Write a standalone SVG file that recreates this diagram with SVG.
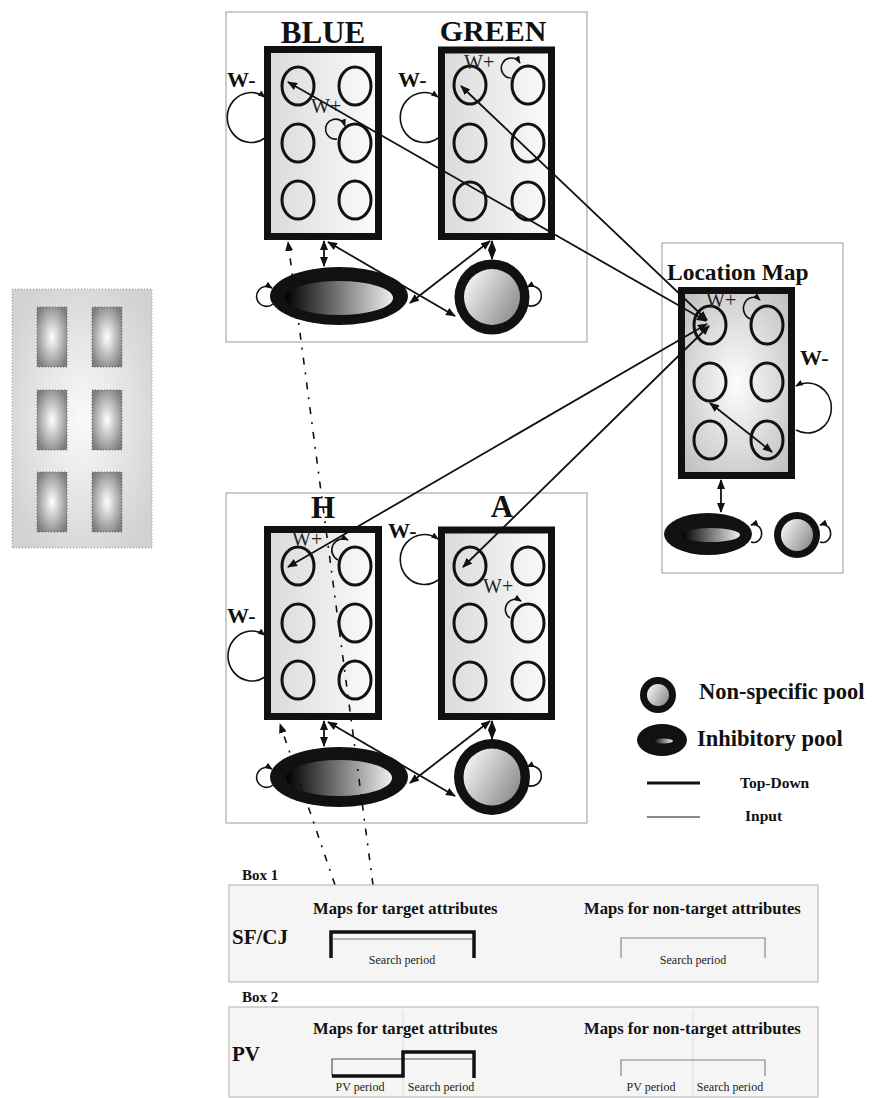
<svg xmlns="http://www.w3.org/2000/svg" width="876" height="1098" viewBox="0 0 876 1098">
<defs>
<linearGradient id="gRect" x1="0" y1="0" x2="1" y2="0"><stop offset="0" stop-color="#dadada"/><stop offset="1" stop-color="#fbfbfb"/></linearGradient>
<radialGradient id="gLM" cx="0.5" cy="0.5" r="0.7"><stop offset="0" stop-color="#fdfdfd"/><stop offset="1" stop-color="#bcbcbc"/></radialGradient>
<linearGradient id="gInh" x1="0" y1="0" x2="1" y2="0"><stop offset="0" stop-color="#000"/><stop offset="1" stop-color="#efefef"/></linearGradient>
<linearGradient id="gNS" x1="0" y1="0.2" x2="1" y2="0.8"><stop offset="0" stop-color="#f6f6f6"/><stop offset="1" stop-color="#8a8a8a"/></linearGradient>
<radialGradient id="gPanel" cx="0.5" cy="0.5" r="0.6"><stop offset="0" stop-color="#fafafa"/><stop offset="1" stop-color="#d2d2d2"/></radialGradient>
<radialGradient id="gCell" cx="0.5" cy="0.5" r="0.6"><stop offset="0" stop-color="#ffffff"/><stop offset="1" stop-color="#7e7e7e"/></radialGradient>
<marker id="ah" viewBox="0 0 10 8" refX="9" refY="4" markerWidth="10" markerHeight="8" markerUnits="userSpaceOnUse" orient="auto-start-reverse"><path d="M0,0 L10,4 L0,8 z" fill="#111"/></marker>
<marker id="ahs" viewBox="0 0 10 8" refX="9" refY="4" markerWidth="8" markerHeight="6" markerUnits="userSpaceOnUse" orient="auto"><path d="M0,0 L10,4 L0,8 z" fill="#111"/></marker>
</defs>
<style>
.mod{fill:#fff;stroke:#aaa;stroke-width:1.2}
.fmap{fill:url(#gRect);stroke:#111;stroke-width:7}
.lmap{fill:url(#gLM);stroke:#111;stroke-width:7}
.cell{fill:none;stroke:#111;stroke-width:3}
.title{font-family:"Liberation Serif",serif;font-weight:bold;fill:#111}
.wp{font-family:"Liberation Serif",serif;font-size:20px;fill:#222}
.wm{font-family:"Liberation Serif",serif;font-weight:bold;font-size:22px;fill:#111}
.loop{fill:none;stroke:#111;stroke-width:1.6}
.ln{fill:none;stroke:#111;stroke-width:1.8}
.dd{fill:none;stroke:#111;stroke-width:1.6;stroke-dasharray:7 8 2 8}
.box{fill:#f5f5f5;stroke:#bbb;stroke-width:1.2}
.bl{font-family:"Liberation Serif",serif;font-weight:bold;fill:#111}
.sm{font-family:"Liberation Serif",serif;font-size:12px;fill:#222}
.thick{fill:none;stroke:#111;stroke-width:3.5}
.thin{fill:none;stroke:#888;stroke-width:1.2}
</style>

<!-- left panel -->
<g id="stimulus">
<rect x="12" y="289" width="140" height="259" fill="url(#gPanel)" stroke="#999" stroke-width="1" stroke-dasharray="1 2"/>
<g fill="url(#gCell)" stroke="#666" stroke-width="1" stroke-dasharray="1 2">
<rect x="37" y="307" width="30" height="60"/><rect x="92" y="307" width="30" height="60"/>
<rect x="37" y="390" width="30" height="60"/><rect x="92" y="390" width="30" height="60"/>
<rect x="37" y="472" width="30" height="60"/><rect x="92" y="472" width="30" height="60"/>
</g>
</g>

<!-- module frames -->
<rect id="module-top" class="mod" x="226" y="12" width="361" height="330"/>
<rect id="module-bottom" class="mod" x="226" y="493" width="361" height="330"/>
<rect id="module-lm" class="mod" x="662" y="243" width="181" height="330"/>

<!-- BLUE -->
<g id="blue">
<text class="title" x="323" y="43" font-size="31" text-anchor="middle">BLUE</text>
<rect class="fmap" x="267.5" y="49.5" width="111" height="187"/>
<g class="cell"><ellipse cx="298" cy="86" rx="16" ry="19"/><ellipse cx="355" cy="86" rx="16" ry="19"/><ellipse cx="298" cy="143" rx="16" ry="19"/><ellipse cx="355" cy="143" rx="16" ry="19"/><ellipse cx="298" cy="200" rx="16" ry="19"/><ellipse cx="355" cy="200" rx="16" ry="19"/></g>
<text class="wm" x="227" y="87">W-</text>
<path class="loop" d="M265,138 A24 25 0 1 1 265,97" marker-end="url(#ahs)"/>
<text class="wp" x="311" y="113">W+</text>
<path class="loop" d="M337,139 A10 10 0 1 1 345,126" marker-end="url(#ahs)"/>
</g>

<!-- GREEN -->
<g id="green">
<text class="title" x="493" y="41" font-size="30" text-anchor="middle">GREEN</text>
<rect class="fmap" x="441.5" y="50" width="110" height="186.5"/>
<g class="cell"><ellipse cx="470" cy="85" rx="16" ry="19"/><ellipse cx="528" cy="85" rx="16" ry="19"/><ellipse cx="470" cy="143" rx="16" ry="19"/><ellipse cx="528" cy="143" rx="16" ry="19"/><ellipse cx="470" cy="201" rx="16" ry="19"/><ellipse cx="528" cy="201" rx="16" ry="19"/></g>
<text class="wm" x="398" y="87">W-</text>
<path class="loop" d="M438,138 A24 25 0 1 1 438,97" marker-end="url(#ahs)"/>
<text class="wp" x="464" y="69">W+</text>
<path class="loop" d="M511,78 A10 10 0 1 1 520,63" marker-end="url(#ahs)"/>
</g>

<!-- top pools -->
<g id="inh-top">
<ellipse cx="339" cy="296" rx="69" ry="29" fill="#111"/>
<ellipse cx="339" cy="298" rx="54" ry="17" fill="url(#gInh)"/>
<path class="loop" d="M273,304 A10 10 0 1 1 272,288" marker-end="url(#ahs)"/>
</g>
<g id="ns-top">
<circle cx="492" cy="297" r="37.5" fill="#111"/>
<circle cx="492" cy="297" r="28" fill="url(#gNS)"/>
<path class="loop" d="M527,305 A10 10 0 1 0 527,287" marker-end="url(#ahs)"/>
</g>

<!-- H -->
<g id="h">
<text class="title" x="323" y="518" font-size="31" text-anchor="middle">H</text>
<rect class="fmap" x="267.5" y="529.5" width="111" height="187"/>
<g class="cell"><ellipse cx="298" cy="566" rx="16" ry="19"/><ellipse cx="355" cy="566" rx="16" ry="19"/><ellipse cx="298" cy="623" rx="16" ry="19"/><ellipse cx="355" cy="623" rx="16" ry="19"/><ellipse cx="298" cy="680" rx="16" ry="19"/><ellipse cx="355" cy="680" rx="16" ry="19"/></g>
<text class="wm" x="227" y="623">W-</text>
<path class="loop" d="M265,677 A24 25 0 1 1 265,635" marker-end="url(#ahs)"/>
<text class="wp" x="292" y="546">W+</text>
<path class="loop" d="M338,560 A10 10 0 1 1 348,540" marker-end="url(#ahs)"/>
</g>

<!-- A -->
<g id="a">
<text class="title" x="502" y="517" font-size="31" text-anchor="middle">A</text>
<rect class="fmap" x="441.5" y="530" width="110" height="186.5"/>
<g class="cell"><ellipse cx="470" cy="566" rx="16" ry="19"/><ellipse cx="528" cy="566" rx="16" ry="19"/><ellipse cx="470" cy="623" rx="16" ry="19"/><ellipse cx="528" cy="623" rx="16" ry="19"/><ellipse cx="470" cy="681" rx="16" ry="19"/><ellipse cx="528" cy="681" rx="16" ry="19"/></g>
<text class="wm" x="388" y="538">W-</text>
<path class="loop" d="M438,580 A24 25 0 1 1 438,539" marker-end="url(#ahs)"/>
<text class="wp" x="483" y="593">W+</text>
<path class="loop" d="M510,618 A10 10 0 1 1 521,601" marker-end="url(#ahs)"/>
</g>

<!-- bottom pools -->
<g id="inh-bottom">
<ellipse cx="339" cy="777" rx="69" ry="30" fill="#111"/>
<ellipse cx="339" cy="778" rx="53" ry="18" fill="url(#gInh)"/>
<path class="loop" d="M273,785 A10 10 0 1 1 272,769" marker-end="url(#ahs)"/>
</g>
<g id="ns-bottom">
<circle cx="492" cy="777" r="38" fill="#111"/>
<circle cx="492" cy="777" r="28.5" fill="url(#gNS)"/>
<path class="loop" d="M527,785 A10 10 0 1 0 527,767" marker-end="url(#ahs)"/>
</g>

<!-- Location Map -->
<g id="location-map">
<text class="title" x="667" y="280" font-size="23.5">Location Map</text>
<rect class="lmap" x="681.5" y="290.5" width="110" height="185"/>
<g class="cell"><ellipse cx="710" cy="325" rx="16" ry="19"/><ellipse cx="767" cy="325" rx="16" ry="19"/><ellipse cx="710" cy="382" rx="16" ry="19"/><ellipse cx="767" cy="382" rx="16" ry="19"/><ellipse cx="710" cy="440" rx="16" ry="19"/><ellipse cx="767" cy="440" rx="16" ry="19"/></g>
<text class="wp" x="706" y="307">W+</text>
<path class="loop" d="M751,319 A10 11 0 1 1 760,300" marker-end="url(#ahs)"/>
<text class="wm" x="800" y="365">W-</text>
<path class="loop" d="M796,430 A24 25 0 1 0 796,386" marker-end="url(#ahs)"/>
</g>
<g id="inh-lm">
<ellipse cx="708" cy="534" rx="44" ry="21" fill="#111"/>
<ellipse cx="711" cy="535" rx="29" ry="7" fill="url(#gInh)"/>
<path class="loop" d="M751,542 A8 9 0 1 0 751,525" marker-end="url(#ahs)"/>
</g>
<g id="ns-lm">
<circle cx="797" cy="535" r="23" fill="#111"/>
<circle cx="797" cy="535" r="16" fill="url(#gNS)"/>
<path class="loop" d="M820,542 A8 9 0 1 0 820,525" marker-end="url(#ahs)"/>
</g>

<!-- connectors -->
<g id="connectors">
<line class="ln" x1="288" y1="82" x2="706" y2="321" marker-start="url(#ah)" marker-end="url(#ah)"/>
<line class="ln" x1="461" y1="86" x2="707" y2="320" marker-start="url(#ah)" marker-end="url(#ah)"/>
<line class="ln" x1="288" y1="567" x2="707" y2="324" marker-start="url(#ah)" marker-end="url(#ah)"/>
<line class="ln" x1="463" y1="567" x2="709" y2="326" marker-start="url(#ah)" marker-end="url(#ah)"/>
<line class="ln" x1="324" y1="241" x2="324" y2="266" marker-start="url(#ah)" marker-end="url(#ah)"/>
<line class="ln" x1="492" y1="241" x2="492" y2="259" marker-start="url(#ah)" marker-end="url(#ah)"/>
<line class="ln" x1="328" y1="242" x2="455" y2="316" marker-start="url(#ah)" marker-end="url(#ah)"/>
<line class="ln" x1="410" y1="303" x2="490" y2="241" marker-start="url(#ah)" marker-end="url(#ah)"/>
<line class="ln" x1="324" y1="721" x2="324" y2="746" marker-start="url(#ah)" marker-end="url(#ah)"/>
<line class="ln" x1="492" y1="721" x2="492" y2="739" marker-start="url(#ah)" marker-end="url(#ah)"/>
<line class="ln" x1="328" y1="722" x2="455" y2="796" marker-start="url(#ah)" marker-end="url(#ah)"/>
<line class="ln" x1="410" y1="783" x2="490" y2="721" marker-start="url(#ah)" marker-end="url(#ah)"/>
<line class="ln" x1="721" y1="480" x2="721" y2="512" marker-start="url(#ah)" marker-end="url(#ah)"/>
<line class="ln" x1="710" y1="403" x2="772" y2="452" marker-start="url(#ah)" marker-end="url(#ah)"/>
<line class="dd" x1="373" y1="885" x2="288" y2="242" marker-end="url(#ah)"/>
<line class="dd" x1="335" y1="885" x2="280" y2="724" marker-end="url(#ah)"/>
</g>

<!-- legend -->
<g id="legend">
<circle cx="658" cy="695" r="18" fill="#111"/>
<circle cx="658" cy="695" r="11" fill="url(#gNS)"/>
<text class="bl" x="699" y="699" font-size="22.5">Non-specific pool</text>
<ellipse cx="662" cy="740" rx="25" ry="16" fill="#111"/>
<ellipse cx="663" cy="741" rx="10" ry="2.5" fill="url(#gInh)"/>
<text class="bl" x="697" y="746" font-size="22.5">Inhibitory pool</text>
<line x1="647" y1="783" x2="700" y2="783" stroke="#111" stroke-width="3"/>
<text class="bl" x="740" y="788" font-size="15.5">Top-Down</text>
<line x1="647" y1="817" x2="700" y2="817" stroke="#111" stroke-width="1"/>
<text class="bl" x="745" y="821" font-size="15.5">Input</text>
</g>

<!-- Box 1 -->
<g id="box1">
<text class="bl" x="242" y="880" font-size="15">Box 1</text>
<rect class="box" x="229" y="885" width="589" height="97"/>
<text class="bl" x="313" y="914" font-size="16.6">Maps for target attributes</text>
<text class="bl" x="584" y="914" font-size="16.6">Maps for non-target attributes</text>
<text class="bl" x="232" y="944" font-size="21">SF/CJ</text>
<line x1="333" y1="939" x2="472" y2="939" stroke="#777" stroke-width="1"/>
<path class="thick" d="M331,958 V932 H474 V958"/>
<text class="sm" x="402" y="964" text-anchor="middle">Search period</text>
<path class="thin" d="M621,958 V938 H765 V958"/>
<text class="sm" x="693" y="964" text-anchor="middle">Search period</text>
</g>

<!-- Box 2 -->
<g id="box2">
<text class="bl" x="242" y="1002" font-size="15">Box 2</text>
<rect class="box" x="229" y="1007" width="589" height="90"/>
<line x1="403" y1="1010" x2="403" y2="1097" stroke="#ddd" stroke-width="1"/>
<line x1="693" y1="1010" x2="693" y2="1097" stroke="#ddd" stroke-width="1"/>
<text class="bl" x="313" y="1034" font-size="16.6">Maps for target attributes</text>
<text class="bl" x="584" y="1034" font-size="16.6">Maps for non-target attributes</text>
<text class="bl" x="232" y="1061" font-size="21">PV</text>
<path d="M332,1076 V1059 H472" fill="none" stroke="#555" stroke-width="1.2"/>
<path class="thick" d="M332,1076 H403 V1052 H474 V1078"/>
<text class="sm" x="360" y="1091" text-anchor="middle">PV period</text>
<text class="sm" x="441" y="1091" text-anchor="middle">Search period</text>
<path class="thin" d="M621,1076 V1060 H765 V1076"/>
<text class="sm" x="651" y="1091" text-anchor="middle">PV period</text>
<text class="sm" x="730" y="1091" text-anchor="middle">Search period</text>
</g>
</svg>
